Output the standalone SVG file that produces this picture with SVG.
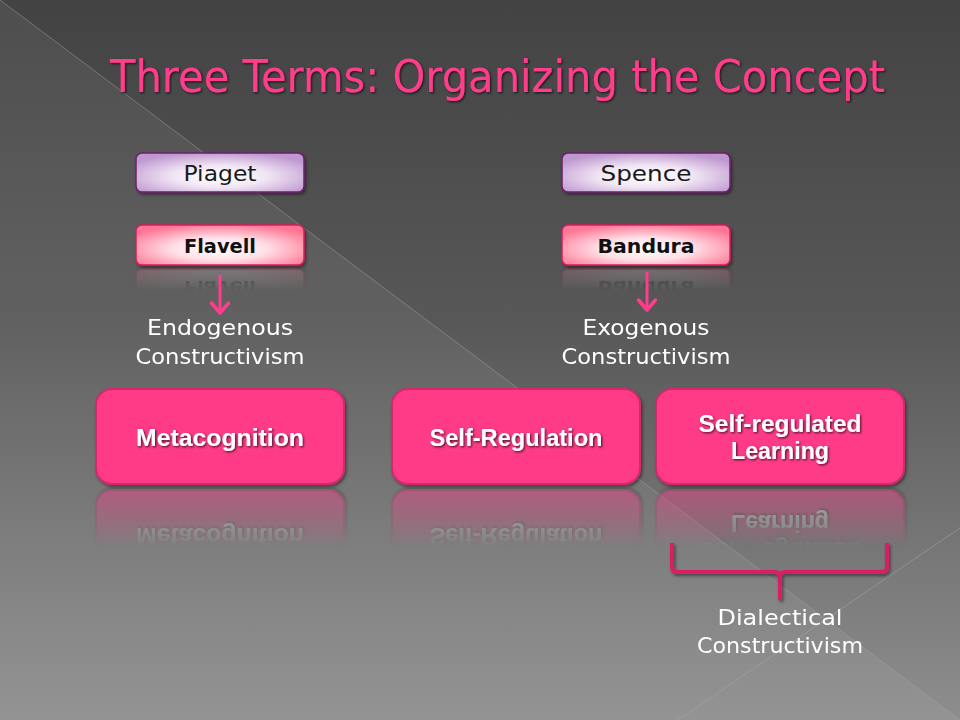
<svg xmlns="http://www.w3.org/2000/svg" xmlns:xlink="http://www.w3.org/1999/xlink" width="960" height="720" viewBox="0 0 960 720">
<defs>
  <linearGradient id="bg" x1="0" y1="0" x2="0" y2="1">
    <stop offset="0" stop-color="#434343"/>
    <stop offset="0.45" stop-color="#585858"/>
    <stop offset="1" stop-color="#8e8e8e"/>
  </linearGradient>
  <radialGradient id="lav" cx="0.5" cy="0.6" r="0.62">
    <stop offset="0" stop-color="#ffffff"/>
    <stop offset="0.45" stop-color="#f1e6f4"/>
    <stop offset="1" stop-color="#bf98d0"/>
  </radialGradient>
  <radialGradient id="pnk" cx="0.5" cy="0.6" r="0.62">
    <stop offset="0" stop-color="#ffffff"/>
    <stop offset="0.45" stop-color="#ffe0e7"/>
    <stop offset="1" stop-color="#ff7795"/>
  </radialGradient>
  <linearGradient id="fadeG" x1="0" y1="0" x2="0" y2="1">
    <stop offset="0" stop-color="#fff" stop-opacity="0.45"/>
    <stop offset="0.6" stop-color="#fff" stop-opacity="0.2"/>
    <stop offset="1" stop-color="#fff" stop-opacity="0"/>
  </linearGradient>
  <linearGradient id="fadeS" x1="0" y1="0" x2="0" y2="1">
    <stop offset="0" stop-color="#fff" stop-opacity="0.22"/>
    <stop offset="1" stop-color="#fff" stop-opacity="0"/>
  </linearGradient>
  <mask id="fadeBig" maskUnits="userSpaceOnUse" x="0" y="0" width="960" height="720">
    <rect x="0" y="487" width="960" height="60" fill="url(#fadeG)"/>
  </mask>
  <mask id="fadeSmall" maskUnits="userSpaceOnUse" x="0" y="0" width="960" height="720">
    <rect x="0" y="267" width="960" height="24" fill="url(#fadeS)"/>
  </mask>
  <filter id="shadow" x="-10%" y="-10%" width="125%" height="140%">
    <feDropShadow dx="1.5" dy="2" stdDeviation="1.5" flood-color="#000" flood-opacity="0.45"/>
  </filter>
  <filter id="tshadow" x="-5%" y="-20%" width="110%" height="150%">
    <feDropShadow dx="1.2" dy="1.2" stdDeviation="0.8" flood-color="#000" flood-opacity="0.7"/>
  </filter>
  <marker id="arrow" markerWidth="16" markerHeight="22" refX="12" refY="10" orient="auto" markerUnits="userSpaceOnUse">
    <path d="M2,1.5 L12,10 L2,18.5" fill="none" stroke="#ff3d8b" stroke-width="3.5" stroke-linecap="round" stroke-linejoin="round"/>
  </marker>
  <style>
    .title{font-family:"DejaVu Sans","Liberation Sans",sans-serif;font-size:45px;fill:#ff3d8b;}
    .small{font-family:"DejaVu Sans","Liberation Sans",sans-serif;font-size:21px;fill:#1a1a1a;text-anchor:middle;}
    .smallb{font-family:"DejaVu Sans","Liberation Sans",sans-serif;font-size:20px;font-weight:bold;fill:#111;text-anchor:middle;}
    .lbl{font-family:"DejaVu Sans","Liberation Sans",sans-serif;font-size:22px;fill:#ffffff;text-anchor:middle;}
    .big{font-family:"Liberation Sans","DejaVu Sans",sans-serif;font-size:23px;font-weight:bold;fill:#ffffff;text-anchor:middle;}
    .bigbox{fill:#ff3a88;stroke:#d42a6b;stroke-width:2;}
    .lavbox{fill:url(#lav);stroke:#6e1f70;stroke-width:1.5;}
    .pnkbox{fill:url(#pnk);stroke:#d81e5b;stroke-width:1.5;}
    .conn{stroke:#ff3d8b;stroke-width:3;fill:none;}
    .brace{stroke:#dc1f63;stroke-width:4;fill:none;stroke-linejoin:round;}
  </style>
</defs>

<!-- background -->
<rect x="0" y="0" width="960" height="720" fill="url(#bg)"/>
<polygon points="0,0 960,720 0,720" fill="#ffffff" opacity="0.06"/>
<line x1="0" y1="0" x2="960" y2="720" stroke="#a0a0a0" stroke-width="1" opacity="0.5"/>
<line x1="960" y1="528" x2="678" y2="720" stroke="#a8a8a8" stroke-width="1" opacity="0.5"/>

<!-- title -->
<text class="title" x="110" y="92" textLength="775" lengthAdjust="spacingAndGlyphs" filter="url(#tshadow)">Three Terms:  Organizing the Concept</text>

<!-- small nodes -->
<g id="n-piaget">
  <rect class="lavbox" x="136" y="153" width="168" height="39" rx="6" filter="url(#shadow)"/>
  <text class="small" x="220" y="181" textLength="73" lengthAdjust="spacingAndGlyphs">Piaget</text>
</g>
<g id="n-spence">
  <rect class="lavbox" x="562" y="153" width="168" height="39" rx="6" filter="url(#shadow)"/>
  <text class="small" x="646" y="181" textLength="91" lengthAdjust="spacingAndGlyphs">Spence</text>
</g>
<g id="n-flavell">
  <rect class="pnkbox" x="136" y="225" width="168" height="40" rx="6" filter="url(#shadow)"/>
  <text class="smallb" x="220" y="253" textLength="72" lengthAdjust="spacingAndGlyphs">Flavell</text>
</g>
<g id="n-bandura">
  <rect class="pnkbox" x="562" y="225" width="168" height="40" rx="6" filter="url(#shadow)"/>
  <text class="smallb" x="646" y="253" textLength="97" lengthAdjust="spacingAndGlyphs">Bandura</text>
</g>
<g mask="url(#fadeSmall)">
  <use xlink:href="#n-flavell" transform="translate(0,534) scale(1,-1)"/>
  <use xlink:href="#n-bandura" transform="translate(0,534) scale(1,-1)"/>
</g>

<!-- labels -->
<g id="n-endogenous">
  <text class="lbl" x="220" y="335" textLength="146" lengthAdjust="spacingAndGlyphs">Endogenous</text>
  <text class="lbl" x="220" y="364" textLength="169" lengthAdjust="spacingAndGlyphs">Constructivism</text>
</g>
<g id="n-exogenous">
  <text class="lbl" x="646" y="335" textLength="127" lengthAdjust="spacingAndGlyphs">Exogenous</text>
  <text class="lbl" x="646" y="364" textLength="169" lengthAdjust="spacingAndGlyphs">Constructivism</text>
</g>

<!-- big nodes -->
<g id="n-metacognition">
  <rect class="bigbox" x="96" y="389" width="248" height="95" rx="16" filter="url(#shadow)"/>
  <text class="big" x="220" y="446" textLength="168" lengthAdjust="spacingAndGlyphs" filter="url(#tshadow)">Metacognition</text>
</g>
<g id="n-selfregulation">
  <rect class="bigbox" x="392" y="389" width="248" height="95" rx="16" filter="url(#shadow)"/>
  <text class="big" x="516" y="446" textLength="173" lengthAdjust="spacingAndGlyphs" filter="url(#tshadow)">Self-Regulation</text>
</g>
<g id="n-srl">
  <rect class="bigbox" x="656" y="389" width="248" height="95" rx="16" filter="url(#shadow)"/>
  <text class="big" x="780" y="432" textLength="163" lengthAdjust="spacingAndGlyphs" filter="url(#tshadow)">Self-regulated</text>
  <text class="big" x="780" y="459" textLength="98" lengthAdjust="spacingAndGlyphs" filter="url(#tshadow)">Learning</text>
</g>
<g mask="url(#fadeBig)">
  <use xlink:href="#n-metacognition" transform="translate(0,974) scale(1,-1)"/>
  <use xlink:href="#n-selfregulation" transform="translate(0,974) scale(1,-1)"/>
  <use xlink:href="#n-srl" transform="translate(0,974) scale(1,-1)"/>
</g>

<!-- dialectical label -->
<g id="n-dialectical">
  <text class="lbl" x="780" y="625" textLength="125" lengthAdjust="spacingAndGlyphs">Dialectical</text>
  <text class="lbl" x="780" y="653" textLength="166" lengthAdjust="spacingAndGlyphs">Constructivism</text>
</g>

<!-- connectors -->
<g id="connectors">
  <line class="conn" x1="220" y1="275" x2="220" y2="313" marker-end="url(#arrow)"/>
  <line class="conn" x1="647" y1="272" x2="647" y2="310" marker-end="url(#arrow)"/>
  <path class="brace" filter="url(#shadow)" d="M672,543 L672,567 Q672,572 677,572 L775,572 Q780,572 780,577 L780,600 M780,577 Q780,572 785,572 L882,572 Q887,572 887,567 L887,543"/>
</g>
</svg>
